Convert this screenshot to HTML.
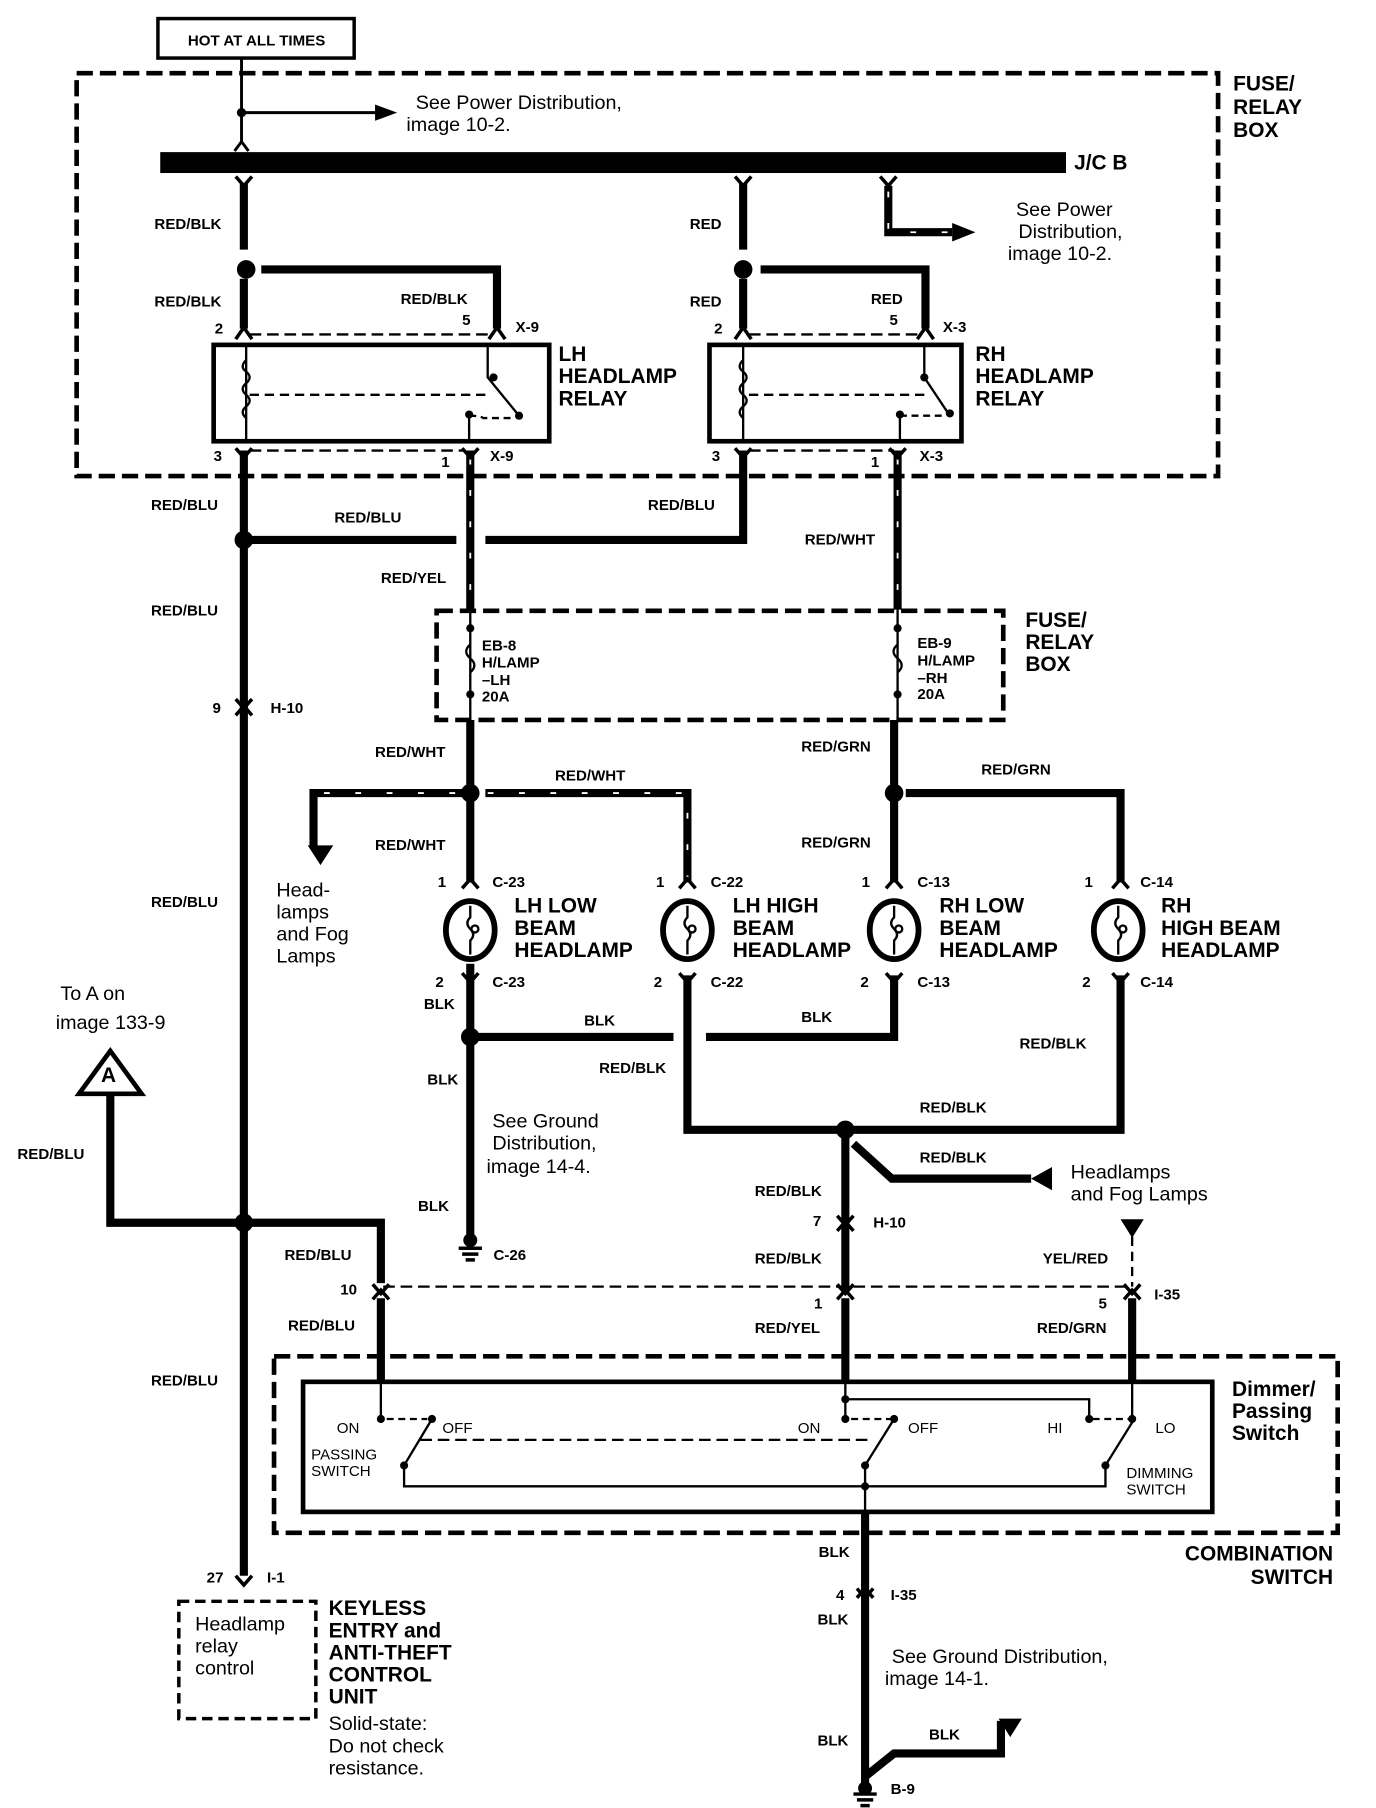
<!DOCTYPE html>
<html><head><meta charset="utf-8"><style>
html,body{margin:0;padding:0;background:#fff}
svg{display:block}
text{font-family:"Liberation Sans",sans-serif;fill:#000}
.b{font-weight:bold;font-size:13px}
.L{font-weight:bold;font-size:18px}
.n{font-size:17px}
</style></head><body>
<svg width="1376" height="1808" viewBox="0 0 1185 1557" preserveAspectRatio="none" xmlns="http://www.w3.org/2000/svg">
<g fill="none" stroke="#000">
<rect x="136" y="16" width="169" height="34" stroke-width="3"/>
<rect x="66" y="63" width="983" height="347" stroke-width="4" stroke-dasharray="14 6"/>
<rect x="376" y="526" width="488" height="94" stroke-width="4" stroke-dasharray="14 6"/>
<rect x="236" y="1168" width="916" height="152" stroke-width="4" stroke-dasharray="14 6"/>
<rect x="154" y="1379" width="118" height="101" stroke-width="3" stroke-dasharray="9 5"/>
<rect x="261" y="1190" width="783" height="112" stroke-width="4"/>
<path d="M208 50V123M208 97H325" stroke-width="2.5"/>
<path d="M202 130L208 122L214 130" stroke-width="2.5"/>
<rect x="138" y="131" width="780" height="18" fill="#000" stroke="none"/>
<g stroke-width="7">
<path d="M210 158V215M210 240V283M225 232H428V283"/>
<path d="M640 158V215M640 240V283M655 232H797V283"/>
<path d="M210 388V1357"/>
<path d="M640 388V465H418M393 465H210"/>
<path d="M405 620V760M770 620V760M780 683H965V760"/>
<path d="M405 830V1068M405 893H580M608 893H770V840"/>
<path d="M592 840V973H965V840"/>
<path d="M728 973V1110M735 985L768 1015H888"/>
<path d="M95 943V1053H328V1105"/>
<path d="M328 1118V1190M728 1118V1190M975 1118V1190"/>
<path d="M745 1302V1545M745 1530L770 1510H862V1482"/>
</g>
<g stroke-width="7">
<path d="M405 388V525M773 388V525M405 683H270V730M418 683H592V760M765 160V200H820"/>
</g>
<g stroke="#fff" stroke-width="1.6" stroke-dasharray="5 22">
<path d="M405 395V525M773 395V525M392 683H275V728M420 683H592V760M765 165V200H820"/>
</g>
<g stroke-width="2">
<path d="M215 288H420M215 388H400" stroke-dasharray="10 5"/>
<path d="M645 288H790M645 388H770" stroke-dasharray="10 5"/>
<path d="M405 525V620M773 525V620"/>
<path d="M330 1108H975" stroke-dasharray="10 5"/>
<path d="M975 1065V1108" stroke-dasharray="8 5"/>
</g>
<rect x="184" y="297" width="289" height="83" stroke-width="4"/>
<rect x="611" y="297" width="217" height="83" stroke-width="4"/>
<g stroke-width="2">
<path d="M212 297V380M420 297V325L447 358M404 380V360"/>
<path d="M212 310q-6 6 0 10q6 5 0 10q-6 5 0 10q6 5 0 10q-6 5 0 10" />
<path d="M215 340H420" stroke-dasharray="8 5"/>
<path d="M404 358q10 0 12 2H440" stroke-dasharray="6 4"/>
<path d="M640 297V380M796 297V325L818 358M775 380V360"/>
<path d="M640 310q-6 6 0 10q6 5 0 10q-6 5 0 10q6 5 0 10q-6 5 0 10"/>
<path d="M645 340H796" stroke-dasharray="8 5"/>
<path d="M775 358H812" stroke-dasharray="6 4"/>
<path d="M405 555q-7 6 0 12q7 6 0 12M773 555q-7 6 0 12q7 6 0 12"/>
</g>
<g stroke-width="2">
<path d="M328 1190V1222"/>
<path d="M333 1222H368" stroke-dasharray="6 4"/>
<path d="M372 1222L348 1262V1280H952V1262L975 1225V1190"/>
<path d="M728 1190V1222M728 1205H938V1222M770 1222L745 1262V1302"/>
<path d="M733 1222H768M941 1222H972" stroke-dasharray="6 4"/>
<path d="M362 1240H750" stroke-dasharray="10 5"/>
</g>
<g stroke-width="3">
<path d="M203 152L210 160L217 152M633 152L640 160L647 152M758 152L765 160L772 152"/>
<path d="M203 292L210 282L217 292M421 292L428 282L435 292M633 292L640 282L647 292M790 292L797 282L804 292"/>
<path d="M203 386L210 394L217 386M398 386L405 394L412 386M633 386L640 394L647 386M766 386L773 394L780 386"/>
<path d="M203 602L210 610L217 602M203 616L210 608L217 616"/>
<path d="M398 765L405 757L412 765M585 765L592 757L599 765M763 765L770 757L777 765M958 765L965 757L972 765"/>
<path d="M398 838L405 846L412 838M585 838L592 846L599 838M763 838L770 846L777 838M958 838L965 846L972 838"/>
<path d="M721 1047L728 1055L735 1047M721 1060L728 1052L735 1060"/>
<path d="M321 1106L328 1114L335 1106M321 1119L328 1111L335 1119M721 1106L728 1114L735 1106M721 1119L728 1111L735 1119M968 1106L975 1114L982 1106M968 1119L975 1111L982 1119"/>
<path d="M203 1357L210 1365L217 1357M738 1376L745 1368L752 1376M738 1368L745 1376L752 1368"/>
</g>
<g stroke-width="5">
<ellipse cx="405" cy="801" rx="21" ry="25"/><ellipse cx="592" cy="801" rx="21" ry="25"/>
<ellipse cx="770" cy="801" rx="21" ry="25"/><ellipse cx="963" cy="801" rx="21" ry="25"/>
</g>
<g stroke-width="2">
<path d="M405 780v10q-5 5 0 10q5 5 0 10v12M592 780v10q-5 5 0 10q5 5 0 10v12M770 780v10q-5 5 0 10q5 5 0 10v12M963 780v10q-5 5 0 10q5 5 0 10v12"/>
<circle cx="409" cy="800" r="3"/><circle cx="596" cy="800" r="3"/><circle cx="774" cy="800" r="3"/><circle cx="967" cy="800" r="3"/>
</g>
<path d="M95 905L68 942H122Z" stroke-width="4"/>
<g stroke-width="3"><path d="M395 1075H415M398 1080H412M401 1085H409M735 1545H755M738 1550H752M741 1555H749"/></g>
</g>
<g fill="#000">
<path d="M323 90L342 97L323 104Z"/>
<path d="M820 192L840 200L820 208Z"/>
<path d="M265 728L287 728L276 745Z"/>
<path d="M888 1015L906 1005V1025Z"/>
<path d="M965 1050H985L975 1066Z"/>
<path d="M860 1480H880L870 1496Z"/>
<circle cx="208" cy="97" r="4"/>
<circle cx="212" cy="232" r="8"/><circle cx="640" cy="232" r="8"/>
<circle cx="210" cy="465" r="8"/><circle cx="405" cy="683" r="8"/><circle cx="770" cy="683" r="8"/>
<circle cx="405" cy="893" r="8"/><circle cx="728" cy="973" r="8"/><circle cx="210" cy="1053" r="8"/>
<circle cx="405" cy="1068" r="6"/><circle cx="745" cy="1540" r="6"/>
<circle cx="405" cy="541" r="3.5"/><circle cx="405" cy="598" r="3.5"/><circle cx="773" cy="541" r="3.5"/><circle cx="773" cy="598" r="3.5"/>
<circle cx="425" cy="325" r="3.5"/><circle cx="447" cy="358" r="3.5"/><circle cx="404" cy="357" r="3.5"/>
<circle cx="796" cy="325" r="3.5"/><circle cx="818" cy="356" r="3.5"/><circle cx="775" cy="357" r="3.5"/>
<circle cx="328" cy="1222" r="3.5"/><circle cx="372" cy="1222" r="3.5"/><circle cx="348" cy="1262" r="3.5"/>
<circle cx="728" cy="1222" r="3.5"/><circle cx="770" cy="1222" r="3.5"/><circle cx="745" cy="1262" r="3.5"/><circle cx="728" cy="1205" r="3.5"/><circle cx="745" cy="1280" r="3.5"/>
<circle cx="938" cy="1222" r="3.5"/><circle cx="975" cy="1222" r="3.5"/><circle cx="952" cy="1262" r="3.5"/>
</g>
<text x="221" y="39" class="b" text-anchor="middle">HOT AT ALL TIMES</text>
<text x="1062" y="78" class="L">FUSE/</text><text x="1062" y="98" class="L">RELAY</text><text x="1062" y="118" class="L">BOX</text>
<text x="358" y="94" class="n">See Power Distribution,</text><text x="350" y="113" class="n">image 10-2.</text>
<text x="925" y="146" class="L" font-size="17">J/C B</text>
<text x="875" y="186" class="n">See Power</text><text x="877" y="205" class="n">Distribution,</text><text x="868" y="224" class="n">image 10-2.</text>
<text x="133" y="197" class="b">RED/BLK</text><text x="594" y="197" class="b">RED</text>
<text x="133" y="264" class="b">RED/BLK</text><text x="345" y="262" class="b">RED/BLK</text><text x="594" y="264" class="b">RED</text><text x="750" y="262" class="b">RED</text>
<text x="398" y="280" class="b">5</text><text x="444" y="286" class="b">X-9</text><text x="185" y="287" class="b">2</text>
<text x="766" y="280" class="b">5</text><text x="812" y="286" class="b">X-3</text><text x="615" y="287" class="b">2</text>
<text x="481" y="311" class="L">LH</text><text x="481" y="330" class="L">HEADLAMP</text><text x="481" y="349" class="L">RELAY</text>
<text x="840" y="311" class="L">RH</text><text x="840" y="330" class="L">HEADLAMP</text><text x="840" y="349" class="L">RELAY</text>
<text x="184" y="397" class="b">3</text><text x="380" y="402" class="b">1</text><text x="422" y="397" class="b">X-9</text>
<text x="613" y="397" class="b">3</text><text x="750" y="402" class="b">1</text><text x="792" y="397" class="b">X-3</text>
<text x="130" y="439" class="b">RED/BLU</text><text x="288" y="450" class="b">RED/BLU</text><text x="558" y="439" class="b">RED/BLU</text>
<text x="693" y="469" class="b">RED/WHT</text><text x="328" y="502" class="b">RED/YEL</text><text x="130" y="530" class="b">RED/BLU</text>
<text x="883" y="540" class="L">FUSE/</text><text x="883" y="559" class="L">RELAY</text><text x="883" y="578" class="L">BOX</text>
<text x="415" y="560" class="b" font-size="12">EB-8</text><text x="415" y="575" class="b" font-size="12">H/LAMP</text><text x="415" y="590" class="b" font-size="12">–LH</text><text x="415" y="604" class="b" font-size="12">20A</text>
<text x="790" y="558" class="b" font-size="12">EB-9</text><text x="790" y="573" class="b" font-size="12">H/LAMP</text><text x="790" y="588" class="b" font-size="12">–RH</text><text x="790" y="602" class="b" font-size="12">20A</text>
<text x="183" y="614" class="b">9</text><text x="233" y="614" class="b">H-10</text>
<text x="323" y="652" class="b">RED/WHT</text><text x="690" y="647" class="b">RED/GRN</text>
<text x="478" y="672" class="b">RED/WHT</text><text x="845" y="667" class="b">RED/GRN</text>
<text x="323" y="732" class="b">RED/WHT</text><text x="690" y="730" class="b">RED/GRN</text>
<text x="238" y="772" class="n" font-size="18">Head-</text><text x="238" y="791" class="n" font-size="18">lamps</text><text x="238" y="810" class="n" font-size="18">and Fog</text><text x="238" y="829" class="n" font-size="18">Lamps</text>
<text x="377" y="764" class="b">1</text><text x="424" y="764" class="b">C-23</text><text x="565" y="764" class="b">1</text><text x="612" y="764" class="b">C-22</text>
<text x="742" y="764" class="b">1</text><text x="790" y="764" class="b">C-13</text><text x="934" y="764" class="b">1</text><text x="982" y="764" class="b">C-14</text>
<text x="443" y="786" class="L">LH LOW</text><text x="443" y="805" class="L">BEAM</text><text x="443" y="824" class="L">HEADLAMP</text>
<text x="631" y="786" class="L">LH HIGH</text><text x="631" y="805" class="L">BEAM</text><text x="631" y="824" class="L">HEADLAMP</text>
<text x="809" y="786" class="L">RH LOW</text><text x="809" y="805" class="L">BEAM</text><text x="809" y="824" class="L">HEADLAMP</text>
<text x="1000" y="786" class="L">RH</text><text x="1000" y="805" class="L">HIGH BEAM</text><text x="1000" y="824" class="L">HEADLAMP</text>
<text x="375" y="850" class="b">2</text><text x="424" y="850" class="b">C-23</text><text x="563" y="850" class="b">2</text><text x="612" y="850" class="b">C-22</text>
<text x="741" y="850" class="b">2</text><text x="790" y="850" class="b">C-13</text><text x="932" y="850" class="b">2</text><text x="982" y="850" class="b">C-14</text>
<text x="365" y="869" class="b">BLK</text><text x="503" y="883" class="b">BLK</text><text x="690" y="880" class="b">BLK</text>
<text x="52" y="861" class="n">To A on</text><text x="48" y="886" class="n">image 133-9</text>
<text x="87" y="932" class="L" font-size="16">A</text>
<text x="878" y="903" class="b">RED/BLK</text><text x="516" y="924" class="b">RED/BLK</text><text x="368" y="934" class="b">BLK</text>
<text x="792" y="958" class="b">RED/BLK</text>
<text x="424" y="971" class="n">See Ground</text><text x="424" y="990" class="n">Distribution,</text><text x="419" y="1010" class="n">image 14-4.</text>
<text x="15" y="998" class="b">RED/BLU</text><text x="792" y="1001" class="b">RED/BLK</text>
<text x="922" y="1015" class="n">Headlamps</text><text x="922" y="1034" class="n">and Fog Lamps</text>
<text x="650" y="1030" class="b">RED/BLK</text><text x="360" y="1043" class="b">BLK</text>
<text x="700" y="1056" class="b">7</text><text x="752" y="1057" class="b">H-10</text>
<text x="245" y="1085" class="b">RED/BLU</text><text x="425" y="1085" class="b">C-26</text><text x="650" y="1088" class="b">RED/BLK</text><text x="898" y="1088" class="b">YEL/RED</text>
<text x="293" y="1115" class="b">10</text><text x="701" y="1127" class="b">1</text><text x="946" y="1127" class="b">5</text><text x="994" y="1119" class="b">I-35</text>
<text x="248" y="1146" class="b">RED/BLU</text><text x="650" y="1148" class="b">RED/YEL</text><text x="893" y="1148" class="b">RED/GRN</text>
<text x="130" y="1193" class="b">RED/BLU</text><text x="130" y="781" class="b">RED/BLU</text>
<text x="1061" y="1202" class="L" font-size="17">Dimmer/</text><text x="1061" y="1221" class="L" font-size="17">Passing</text><text x="1061" y="1240" class="L" font-size="17">Switch</text>
<text x="290" y="1234" font-size="13">ON</text><text x="381" y="1234" font-size="13">OFF</text><text x="687" y="1234" font-size="13">ON</text><text x="782" y="1234" font-size="13">OFF</text><text x="902" y="1234" font-size="13">HI</text><text x="995" y="1234" font-size="13">LO</text>
<text x="268" y="1257" font-size="13">PASSING</text><text x="268" y="1271" font-size="13">SWITCH</text><text x="970" y="1273" font-size="13">DIMMING</text><text x="970" y="1287" font-size="13">SWITCH</text>
<text x="1148" y="1344" class="L" text-anchor="end">COMBINATION</text><text x="1148" y="1364" class="L" text-anchor="end">SWITCH</text>
<text x="705" y="1341" class="b">BLK</text><text x="178" y="1363" class="b">27</text><text x="230" y="1363" class="b">I-1</text>
<text x="720" y="1378" class="b">4</text><text x="767" y="1378" class="b">I-35</text><text x="704" y="1399" class="b">BLK</text>
<text x="168" y="1404" class="n" font-size="18">Headlamp</text><text x="168" y="1423" class="n" font-size="18">relay</text><text x="168" y="1442" class="n" font-size="18">control</text>
<text x="283" y="1391" class="L">KEYLESS</text><text x="283" y="1410" class="L">ENTRY and</text><text x="283" y="1429" class="L">ANTI-THEFT</text><text x="283" y="1448" class="L">CONTROL</text><text x="283" y="1467" class="L">UNIT</text>
<text x="283" y="1490" class="n" font-size="18">Solid-state:</text><text x="283" y="1509" class="n" font-size="18">Do not check</text><text x="283" y="1528" class="n" font-size="18">resistance.</text>
<text x="768" y="1432" class="n">See Ground Distribution,</text><text x="762" y="1451" class="n">image 14-1.</text>
<text x="800" y="1498" class="b">BLK</text><text x="704" y="1503" class="b">BLK</text><text x="767" y="1545" class="b">B-9</text>
</svg>
</body></html>
